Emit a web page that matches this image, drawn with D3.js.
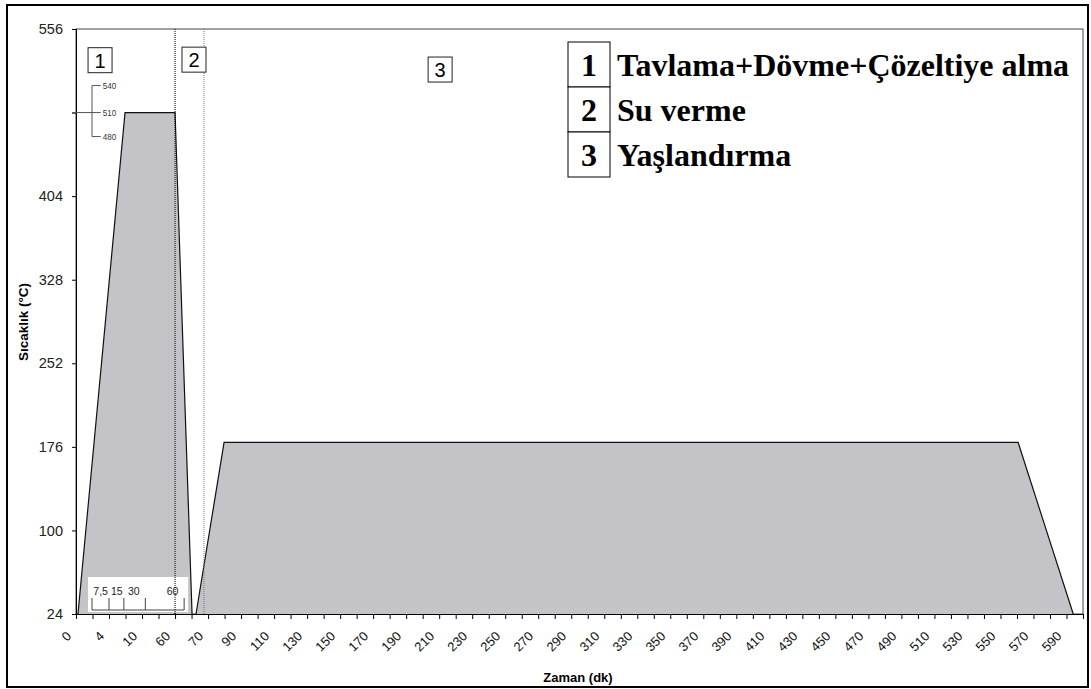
<!DOCTYPE html>
<html>
<head>
<meta charset="utf-8">
<script src="https://cdn.jsdelivr.net/npm/d3@7"></script>
<style>
  html, body { margin: 0; padding: 0; background: #fff; }
  svg { display: block; }
</style>
</head>
<body>
<svg id="chart" width="1091" height="689"></svg>
<script>
// ---------------- data ----------------
// x axis: category slots (index units), labels on every other slot
const xLabels = ["0","4","10","60","70","90","110","130","150","170","190","210","230","250","270","290","310","330","350","370","390","410","430","450","470","490","510","530","550","570","590"];
const xSlotCount = 61;               // number of category slots on the axis
// y axis ticks (°C) and which of them carry a printed label
const yTicks  = [24, 100, 176, 252, 328, 404, 480, 556];
const yLabels = ["24", "100", "176", "252", "328", "404", "", "556"];
// stage 1: annealing + forging + solution treatment   [slot position, °C]
const stage1X = [0.12, 2.97, 6.0, 7.03];
const stage1Y = [24, 480, 480, 24];
// stage 3: ageing
const stage3X = [7.27, 8.97, 57.07, 60.41];
const stage3Y = [24, 180, 180, 24];
// phase boundaries (slot positions)
const phaseBounds = [6.0, 7.75];
// stage number markers: [label, slot position, °C at top of box]
const stageMarks = [["1", 0.73, 539], ["2", 6.42, 539.5], ["3", 21.33, 530.5]];
// temperature bracket inset (labels; the middle one sits on the 480 level of stage 1)
const insetTemps = [540, 510, 480];
// time scale inset (minutes) and the slot positions of its ticks
const insetTicks  = [0.97, 2.0, 2.9, 4.2, 6.55];
const insetLabels = ["7,5", "15", "30", "", "60"];
// legend
const legendNums  = ["1", "2", "3"];
const legendTexts = ["Tavlama+Dövme+Çözeltiye alma", "Su verme", "Yaşlandırma"];

// ---------------- layout ----------------
const svg = d3.select("#chart");
const W = 1091, H = 689;
const plot = { left: 76, right: 1083, top: 29, bottom: 614 };
const x = d3.scaleLinear().domain([0, xSlotCount]).range([plot.left, plot.right]);
const y = d3.scaleLinear().domain([24, 556]).range([plot.bottom, plot.top]);
const sans = "'Liberation Sans', Arial, sans-serif";
const serif = "'Liberation Serif', 'Times New Roman', serif";

svg.append("rect").attr("width", W).attr("height", H).attr("fill", "#fff");
// outer chart frame
svg.append("rect").attr("x", 7).attr("y", 5).attr("width", 1081).attr("height", 682)
  .attr("fill", "none").attr("stroke", "#000").attr("stroke-width", 2);

// plot area frame
svg.append("rect").attr("x", plot.left).attr("y", plot.top)
  .attr("width", plot.right - plot.left).attr("height", plot.bottom - plot.top)
  .attr("fill", "none").attr("stroke", "#444").attr("stroke-width", 1);

// areas
const line = d3.line().x(d => x(d[0])).y(d => y(d[1]));
[[stage1X, stage1Y], [stage3X, stage3Y]].forEach(([xs, ys]) => {
  const pts = xs.map((v, i) => [v, ys[i]]);
  svg.append("path").attr("d", line(pts) + "Z")
    .attr("fill", "#c4c3c8").attr("stroke", "none");
  svg.append("path").attr("d", line(pts))
    .attr("fill", "none").attr("stroke", "#111").attr("stroke-width", 1.2);
});

// phase boundary dotted lines
phaseBounds.forEach((b, i) => {
  svg.append("line").attr("x1", x(b)).attr("x2", x(b))
    .attr("y1", plot.top).attr("y2", plot.bottom)
    .attr("stroke", i === 0 ? "#000" : "#777").attr("stroke-width", 1)
    .attr("stroke-dasharray", "1,1");
});

// bottom inset (time scale) on white box
const insetG = svg.append("g");
insetG.append("rect").attr("x", x(insetTicks[0]) - 4).attr("y", y(24) - 37)
  .attr("width", x(insetTicks[insetTicks.length - 1]) - x(insetTicks[0]) + 8).attr("height", 35)
  .attr("fill", "#fff");
const insetBase = y(24) - 4;
insetG.append("line").attr("x1", x(insetTicks[0])).attr("x2", x(insetTicks[insetTicks.length - 1]))
  .attr("y1", insetBase).attr("y2", insetBase).attr("stroke", "#444");
insetTicks.forEach((t) => {
  insetG.append("line").attr("x1", x(t)).attr("x2", x(t))
    .attr("y1", insetBase).attr("y2", insetBase - 12).attr("stroke", "#444");
});
const insetLabelX = [1.05, 2.12, 3.15, 0, 5.5];
insetLabels.forEach((l, i) => {
  if (!l) return;
  insetG.append("text").attr("x", x(insetLabelX[i])).attr("y", insetBase - 15)
    .attr("font-family", sans).attr("font-size", 10.5).attr("fill", "#222").text(l);
});

// phase boundary line redrawn over inset
svg.append("line").attr("x1", x(phaseBounds[0])).attr("x2", x(phaseBounds[0]))
  .attr("y1", y(24) - 37).attr("y2", plot.bottom)
  .attr("stroke", "#000").attr("stroke-width", 1).attr("stroke-dasharray", "1,1");

// axes
const yAxis = d3.axisLeft(y).tickValues(yTicks).tickSize(4).tickPadding(9)
  .tickFormat((d, i) => yLabels[i]);
const gy = svg.append("g").attr("transform", `translate(${plot.left},0)`).call(yAxis);
gy.select(".domain").attr("stroke", "#000");
gy.selectAll(".tick line").attr("stroke", "#000");
gy.selectAll("text").attr("font-family", sans).attr("font-size", 14.5).attr("fill", "#222");

const slotTicks = d3.range(0, xSlotCount + 1);
const xAxis = d3.axisBottom(x).tickValues(slotTicks).tickSize(5).tickFormat("");
const gx = svg.append("g").attr("transform", `translate(0,${plot.bottom})`).call(xAxis);
gx.select(".domain").attr("stroke", "#000");
gx.selectAll(".tick line").attr("stroke", "#000");
xLabels.forEach((l, i) => {
  const px = x(i * 2) - 4, py = plot.bottom + 23;
  svg.append("text").attr("transform", `translate(${px},${py}) rotate(-45)`)
    .attr("text-anchor", "end").attr("font-family", sans).attr("font-size", 13)
    .attr("fill", "#111").text(l);
});

// temperature bracket inset
const bx = x(0.97), bLab = x(1.62);
const midY = y(insetTemps[2]);
const bracketY = [midY - 27, midY, midY + 24];
svg.append("line").attr("x1", bx).attr("x2", bx).attr("y1", bracketY[0]).attr("y2", bracketY[2])
  .attr("stroke", "#555");
insetTemps.forEach((t, i) => {
  const yy = bracketY[i];
  svg.append("line").attr("x1", i === 1 ? plot.left - 4 : bx).attr("x2", bLab - 2)
    .attr("y1", yy).attr("y2", yy).attr("stroke", "#555");
  svg.append("text").attr("x", bLab).attr("y", yy + 3.5)
    .attr("font-family", sans).attr("font-size", 9.5).attr("fill", "#333")
    .attr("transform", `translate(${bLab},0) scale(0.85,1) translate(${-bLab},0)`)
    .text(t);
});

// stage number markers
stageMarks.forEach(([lab, sx, sy]) => {
  const bxp = x(sx), byp = y(sy);
  svg.append("rect").attr("x", bxp).attr("y", byp).attr("width", 24).attr("height", 25)
    .attr("fill", "#fff").attr("stroke", "#222").attr("stroke-width", 1);
  svg.append("text").attr("x", bxp + 12).attr("y", byp + 20).attr("text-anchor", "middle")
    .attr("font-family", sans).attr("font-size", 20).attr("fill", "#000").text(lab);
});

// axis titles
svg.append("text").attr("x", 578).attr("y", 682)
  .attr("text-anchor", "middle").attr("font-family", sans).attr("font-weight", "bold")
  .attr("font-size", 13).text("Zaman (dk)");
svg.append("text").attr("transform", "translate(28,322) rotate(-90)")
  .attr("text-anchor", "middle").attr("font-family", sans).attr("font-weight", "bold")
  .attr("font-size", 13.5).text("Sıcaklık (°C)");

// legend
const legG = svg.append("g");
const rowEdges = [42, 87, 132, 177];
const cellL = 568, cellR = 610;
legendNums.forEach((n, i) => {
  legG.append("rect").attr("x", cellL).attr("y", rowEdges[i]).attr("width", cellR - cellL)
    .attr("height", rowEdges[i + 1] - rowEdges[i]).attr("fill", "#fff")
    .attr("stroke", "#000").attr("stroke-width", 1);
  const base = rowEdges[i + 1] - 11;
  legG.append("text").attr("x", (cellL + cellR) / 2).attr("y", base).attr("text-anchor", "middle")
    .attr("font-family", serif).attr("font-weight", "bold").attr("font-size", 32).text(n);
  legG.append("text").attr("x", 617).attr("y", base)
    .attr("font-family", serif).attr("font-weight", "bold").attr("font-size", 32).text(legendTexts[i]);
});
</script>
</body>
</html>
